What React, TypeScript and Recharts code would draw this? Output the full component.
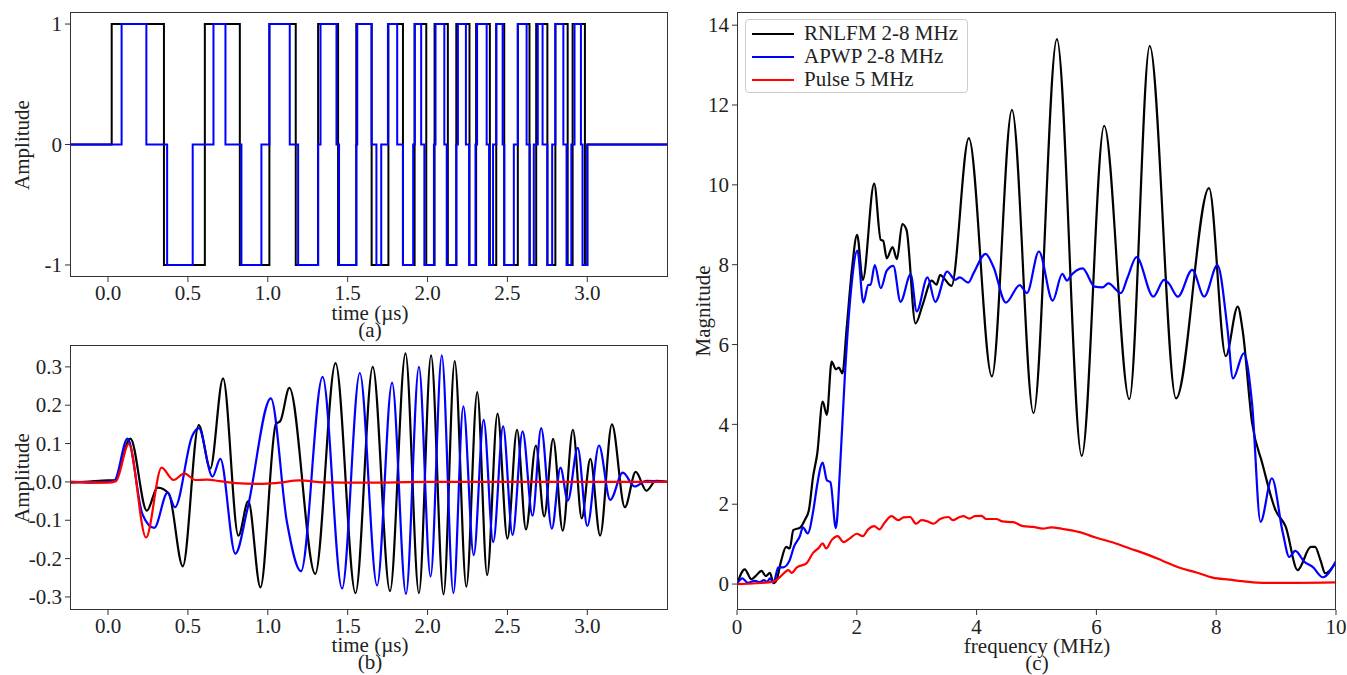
import { LineChart, Line, XAxis, YAxis } from "recharts";

const FONT = '"Liberation Serif", "DejaVu Serif", serif';

// (a) binary codes: [time µs, level]
const codeBlack: [number, number][] = [
  [-0.238, 0], [0.023, 1], [0.35, -1], [0.606, 1], [0.825, -1], [1.01, 1], [1.175, -1],
  [1.315, 1], [1.44, -1], [1.554, 1], [1.65, -1], [1.755, 1], [1.846, -1], [1.919, 1],
  [1.992, -1], [2.044, 1], [2.127, -1], [2.18, 1], [2.2625, -1], [2.304, 1], [2.39, -1],
  [2.43, 1], [2.48, -1], [2.565, 1], [2.638, -1], [2.68, 1], [2.75, -1], [2.8, 1],
  [2.877, -1], [2.908, 1], [2.985, -1], [3.0, 0], [3.505, 0],
];
const codeBlue: [number, number][] = [
  [-0.238, 0], [0.085, 1], [0.24, 0], [0.37, -1], [0.53, 0], [0.66, 1], [0.735, 0],
  [0.835, -1], [0.96, 0], [1.01, 1], [1.1375, 0], [1.19, -1], [1.315, 0], [1.33, 1],
  [1.43, 0], [1.446, -1], [1.554, 0], [1.56, 1], [1.65, 0], [1.68, -1], [1.71, 0],
  [1.752, 1], [1.81, 0], [1.846, -1], [1.91, 0], [1.92, 1], [1.96, 0], [1.98, -1],
  [2.04, 0], [2.05, 1], [2.105, 0], [2.12, -1], [2.18, 0], [2.19, 1], [2.24, 0],
  [2.26, -1], [2.3, 0], [2.31, 1], [2.37, 0], [2.385, -1], [2.41, 0], [2.43, 1],
  [2.47, 0], [2.48, -1], [2.54, 0], [2.565, 1], [2.62, 0], [2.64, -1], [2.665, 0],
  [2.69, 1], [2.72, 0], [2.75, -1], [2.78, 0], [2.8, 1], [2.85, 0], [2.87, -1],
  [2.9, 0], [2.92, 1], [2.96, 0], [2.97, -1], [3.0, 0], [3.505, 0],
];

// (b) received waveforms: [time µs, amplitude]
const waveBlack: [number, number][] = [
  [-0.238, -0.002], [-0.12, 0.001], [0.0, 0.004], [0.04, 0.004], [0.14, 0.113], [0.243, -0.075],
  [0.31, -0.015], [0.38, -0.03], [0.468, -0.22], [0.568, 0.148], [0.64, 0.035], [0.72, 0.27],
  [0.816, -0.14], [0.878, -0.05], [0.954, -0.275], [1.05, 0.15], [1.08, 0.16], [1.135, 0.245],
  [1.297, -0.24], [1.424, 0.31], [1.549, -0.29], [1.657, 0.3], [1.765, -0.285], [1.862, 0.335],
  [1.946, -0.29], [2.022, 0.33], [2.1, -0.293], [2.17, 0.315], [2.243, -0.273], [2.311, 0.234],
  [2.373, -0.243], [2.438, 0.178], [2.5, -0.148], [2.56, 0.136], [2.616, -0.124], [2.678, 0.095],
  [2.73, -0.09], [2.786, 0.112], [2.846, -0.127], [2.91, 0.136], [2.965, -0.095], [3.019, 0.06],
  [3.08, -0.14], [3.154, 0.15], [3.235, -0.066], [3.303, 0.026], [3.37, -0.023], [3.43, 0.003],
  [3.505, 0.0],
];
const waveBlue: [number, number][] = [
  [-0.238, 0.0], [-0.1, -0.002], [0.0, 0.0], [0.04, 0.003], [0.122, 0.113], [0.216, -0.085],
  [0.289, -0.12], [0.373, -0.028], [0.419, -0.066], [0.527, 0.12], [0.568, 0.14], [0.654, 0.014],
  [0.703, 0.06], [0.797, -0.187], [0.873, -0.07], [1.019, 0.218], [1.12, -0.105], [1.208, -0.233],
  [1.343, 0.274], [1.465, -0.278], [1.576, 0.284], [1.684, -0.27], [1.778, 0.259], [1.865, -0.292],
  [1.946, 0.3], [2.019, -0.247], [2.089, 0.33], [2.162, -0.29], [2.224, 0.197], [2.289, -0.191],
  [2.351, 0.162], [2.411, -0.157], [2.473, 0.145], [2.532, -0.138], [2.595, 0.132], [2.657, -0.088],
  [2.711, 0.14], [2.778, -0.122], [2.832, 0.037], [2.878, -0.049], [2.94, 0.089], [3.0, -0.115],
  [3.073, 0.095], [3.143, -0.047], [3.222, 0.024], [3.297, -0.012], [3.37, 0.003], [3.505, 0.0],
];
const waveRed: [number, number][] = [
  [-0.238, 0.0], [0.0, -0.002], [0.05, 0.002], [0.13, 0.099], [0.238, -0.145], [0.335, 0.037],
  [0.41, 0.005], [0.478, 0.022], [0.546, 0.005], [0.62, 0.006], [0.7, 0.002], [0.8, -0.003],
  [0.95, -0.005], [1.05, -0.003], [1.2, 0.004], [1.35, -0.001], [1.6, -0.002], [2.0, 0.0],
  [2.5, 0.0], [3.0, 0.0], [3.505, 0.0],
];

// (c) spectra: [frequency MHz, magnitude]
const specBlack: [number, number][] = [
  [0, 0], [0.13, 0.37], [0.24, 0.12], [0.31, 0.2], [0.41, 0.33], [0.48, 0.2], [0.55, 0.28],
  [0.61, 0.02], [0.66, 0.1], [0.74, 0.6], [0.82, 0.93], [0.88, 0.89], [0.94, 1.35], [1.06, 1.42],
  [1.13, 1.6], [1.2, 1.85], [1.27, 2.69], [1.34, 3.27], [1.43, 4.57], [1.5, 4.24], [1.58, 5.57],
  [1.65, 5.38], [1.7, 5.42], [1.76, 5.28], [1.83, 6.4], [1.92, 7.9], [2.005, 8.75], [2.1, 7.62],
  [2.29, 10.03], [2.4, 8.62], [2.44, 8.6], [2.5, 8.16], [2.597, 8.44], [2.67, 8.14], [2.76, 9.02],
  [2.83, 8.87], [2.98, 6.53], [3.1, 7.0], [3.25, 7.6], [3.33, 7.5], [3.39, 7.74], [3.58, 7.47],
  [3.87, 11.17], [4.255, 5.2], [4.59, 11.88], [4.95, 4.28], [5.34, 13.65], [5.755, 3.21],
  [6.13, 11.48], [6.55, 4.63], [6.89, 13.48], [7.33, 4.65], [7.88, 9.92], [8.16, 5.71],
  [8.36, 6.95], [8.44, 6.37], [8.6, 4.03], [8.77, 3.02], [8.99, 1.85], [9.16, 1.44], [9.36, 0.35],
  [9.58, 0.93], [9.65, 0.93], [9.74, 0.6], [9.82, 0.27], [10, 0.55],
];
const specBlue: [number, number][] = [
  [0, 0], [0.09, 0.14], [0.18, 0.03], [0.3, 0.08], [0.38, 0.05], [0.45, 0.1], [0.5, 0.05],
  [0.55, 0.14], [0.61, 0.04], [0.69, 0.42], [0.77, 0.42], [0.88, 0.6], [0.95, 0.93], [1.05, 1.2],
  [1.1, 1.42], [1.18, 1.27], [1.28, 1.9], [1.34, 2.5], [1.43, 3.04], [1.5, 2.6], [1.56, 2.55],
  [1.65, 1.4], [1.72, 2.9], [1.8, 5.2], [1.9, 7.3], [2.01, 8.35], [2.11, 7.05], [2.19, 7.49],
  [2.23, 7.5], [2.3, 7.99], [2.4, 7.41], [2.5, 7.85], [2.61, 7.97], [2.73, 7.07], [2.9, 7.76],
  [3.0, 6.83], [3.18, 7.68], [3.31, 7.07], [3.51, 7.83], [3.64, 7.62], [3.72, 7.68], [3.86, 7.55],
  [3.95, 7.79], [4.15, 8.27], [4.28, 7.95], [4.49, 7.05], [4.72, 7.49], [4.84, 7.29], [5.04, 8.33],
  [5.27, 7.1], [5.43, 7.77], [5.51, 7.6], [5.57, 7.72], [5.77, 7.91], [5.97, 7.45], [6.1, 7.43],
  [6.2, 7.53], [6.41, 7.29], [6.52, 7.68], [6.67, 8.19], [6.95, 7.2], [7.13, 7.62], [7.21, 7.53],
  [7.36, 7.2], [7.6, 7.87], [7.8, 7.2], [8.02, 7.99], [8.19, 6.37], [8.28, 5.15], [8.46, 5.78],
  [8.6, 4.5], [8.74, 1.56], [8.93, 2.65], [9.11, 1.3], [9.22, 0.68], [9.32, 0.83], [9.47, 0.56],
  [9.61, 0.43], [9.78, 0.17], [10, 0.58],
];
const specRed: [number, number][] = [
  [0, 0], [0.32, 0.02], [0.61, 0.06], [0.72, 0.18], [0.86, 0.35], [0.91, 0.28], [1.0, 0.42],
  [1.16, 0.52], [1.27, 0.78], [1.36, 0.9], [1.43, 1.02], [1.49, 0.89], [1.58, 1.1], [1.68, 1.2],
  [1.78, 1.05], [1.89, 1.15], [2.0, 1.26], [2.1, 1.2], [2.19, 1.37], [2.29, 1.45], [2.38, 1.37],
  [2.46, 1.53], [2.58, 1.7], [2.69, 1.6], [2.78, 1.67], [2.89, 1.68], [2.99, 1.51], [3.08, 1.6],
  [3.18, 1.57], [3.28, 1.51], [3.39, 1.63], [3.53, 1.68], [3.6, 1.6], [3.72, 1.68], [3.78, 1.7],
  [3.88, 1.64], [3.97, 1.7], [4.08, 1.71], [4.16, 1.63], [4.33, 1.63], [4.43, 1.57], [4.61, 1.55],
  [4.78, 1.45], [4.94, 1.43], [5.11, 1.39], [5.24, 1.42], [5.44, 1.38], [5.72, 1.3], [6.0, 1.16],
  [6.28, 1.04], [6.56, 0.89], [6.83, 0.75], [7.11, 0.58], [7.39, 0.41], [7.67, 0.29], [7.94, 0.16],
  [8.22, 0.11], [8.5, 0.06], [8.78, 0.03], [9.33, 0.03], [10, 0.04],
];

const timeTicks = [0, 0.5, 1, 1.5, 2, 2.5, 3];
const codeTicks = [-1, 0, 1];
const waveTicks = [-0.3, -0.2, -0.1, 0, 0.1, 0.2, 0.3];
const freqTicks = [0, 2, 4, 6, 8, 10];
const magTicks = [0, 2, 4, 6, 8, 10, 12, 14];

const legendItems = [
  { name: "RNLFM 2-8 MHz", color: "#000000" },
  { name: "APWP 2-8 MHz", color: "#0000ff" },
  { name: "Pulse 5 MHz", color: "#ff0000" },
];

const pts = (arr: [number, number][]) => arr.map(([x, y]) => ({ x, y }));

const fmt1 = (v: number) => v.toFixed(1);
const fmt0 = (v: number) => String(v);

// custom tick renderers so the serif font is applied directly on the svg text
function xTick(format: (v: number) => string) {
  return (p: any) => (
    <text x={p.x} y={p.y} dy="0.78em" textAnchor="middle" fontFamily={FONT} fontSize={21} fill="#222">
      {format(p.payload.value)}
    </text>
  );
}
function yTick(format: (v: number) => string) {
  return (p: any) => (
    <text x={p.x} y={p.y} dy="0.34em" textAnchor="end" fontFamily={FONT} fontSize={21} fill="#222">
      {format(p.payload.value)}
    </text>
  );
}

const axisProps = {
  axisLine: false,
  tickLine: { stroke: "#333" },
  tickSize: 5,
  interval: 0 as const,
  allowDataOverflow: true,
};

function Frame({ left, top, width, height }: { left: number; top: number; width: number; height: number }) {
  return (
    <div
      style={{
        position: "absolute", left, top, width, height, boxSizing: "border-box",
        border: "1px solid #333", pointerEvents: "none",
      }}
    />
  );
}

function Caption({ x, y, text, rotate }: { x: number; y: number; text: string; rotate?: boolean }) {
  return (
    <div
      style={{
        position: "absolute", left: x, top: y, fontSize: 21, lineHeight: "15px", color: "#222",
        whiteSpace: "nowrap", transform: `translate(-50%, -50%)${rotate ? " rotate(-90deg)" : ""}`,
      }}
    >
      {text}
    </div>
  );
}

export default function App() {
  return (
    <div style={{ position: "relative", width: 1347, height: 675, fontFamily: FONT, background: "#fff" }}>
      <style>{`body{margin:0}`}</style>

      <div style={{ position: "absolute", left: 0, top: 0 }}>
        <LineChart width={680} height={330} margin={{ top: 12, right: 12, bottom: 0, left: 0 }}>
          <XAxis dataKey="x" type="number" domain={[-0.238, 3.505]} ticks={timeTicks} height={53} tickMargin={2}
            tick={xTick(fmt1)} {...axisProps} />
          <YAxis dataKey="y" type="number" domain={[-1.1, 1.1]} ticks={codeTicks} width={70} tickMargin={3}
            tick={yTick(fmt0)} {...axisProps} />
          <Line data={pts(codeBlack)} dataKey="y" type="stepAfter" stroke="#000" strokeWidth={2} dot={false} isAnimationActive={false} />
          <Line data={pts(codeBlue)} dataKey="y" type="stepAfter" stroke="#0000ff" strokeWidth={2} dot={false} isAnimationActive={false} />
        </LineChart>
      </div>

      <div style={{ position: "absolute", left: 0, top: 333 }}>
        <LineChart width={680} height={330} margin={{ top: 12, right: 12, bottom: 0, left: 0 }}>
          <XAxis dataKey="x" type="number" domain={[-0.238, 3.505]} ticks={timeTicks} height={53} tickMargin={2}
            tick={xTick(fmt1)} {...axisProps} />
          <YAxis dataKey="y" type="number" domain={[-0.334, 0.357]} ticks={waveTicks} width={70} tickMargin={3}
            tick={yTick(fmt1)} {...axisProps} />
          <Line data={pts(waveBlack)} dataKey="y" type="monotone" stroke="#000" strokeWidth={2.2} dot={false} isAnimationActive={false} />
          <Line data={pts(waveBlue)} dataKey="y" type="monotone" stroke="#0000ff" strokeWidth={2.2} dot={false} isAnimationActive={false} />
          <Line data={pts(waveRed)} dataKey="y" type="monotone" stroke="#ff0000" strokeWidth={2.2} dot={false} isAnimationActive={false} />
        </LineChart>
      </div>

      <div style={{ position: "absolute", left: 680, top: 0 }}>
        <LineChart width={667} height={675} margin={{ top: 12, right: 11, bottom: 0, left: 0 }}>
          <XAxis dataKey="x" type="number" domain={[0, 10]} ticks={freqTicks} height={65} tickMargin={3}
            tick={xTick(fmt0)} {...axisProps} />
          <YAxis dataKey="y" type="number" domain={[-0.65, 14.33]} ticks={magTicks} width={57} tickMargin={3}
            tick={yTick(fmt0)} {...axisProps} />
          <Line data={pts(specBlack)} dataKey="y" type="monotone" stroke="#000" strokeWidth={2.2} dot={false} isAnimationActive={false} />
          <Line data={pts(specBlue)} dataKey="y" type="monotone" stroke="#0000ff" strokeWidth={2.2} dot={false} isAnimationActive={false} />
          <Line data={pts(specRed)} dataKey="y" type="monotone" stroke="#ff0000" strokeWidth={2.2} dot={false} isAnimationActive={false} />
        </LineChart>
      </div>

      <Frame left={70} top={12} width={598} height={265} />
      <Frame left={70} top={345} width={598} height={265} />
      <Frame left={737} top={12} width={599} height={598} />

      <Caption x={22} y={145} text="Amplitude" rotate />
      <Caption x={370} y={313} text="time (µs)" />
      <Caption x={370} y={330} text="(a)" />
      <Caption x={22} y={478} text="Amplitude" rotate />
      <Caption x={370} y={645} text="time (µs)" />
      <Caption x={370} y={662} text="(b)" />
      <Caption x={703} y={311} text="Magnitude" rotate />
      <Caption x={1037} y={646} text="frequency (MHz)" />
      <Caption x={1037} y={663} text="(c)" />

      <div
        style={{
          position: "absolute", left: 745, top: 19, width: 223, height: 74, boxSizing: "border-box",
          border: "1px solid #ccc", borderRadius: 4, background: "rgba(255,255,255,0.8)",
          padding: "2px 0 0 6px",
        }}
      >
        {legendItems.map((it) => (
          <div key={it.name} style={{ display: "flex", alignItems: "center", height: 23 }}>
            <div style={{ width: 42, height: 2, background: it.color, marginRight: 10 }} />
            <span style={{ fontSize: 21, lineHeight: "21px", color: "#222" }}>{it.name}</span>
          </div>
        ))}
      </div>
    </div>
  );
}
